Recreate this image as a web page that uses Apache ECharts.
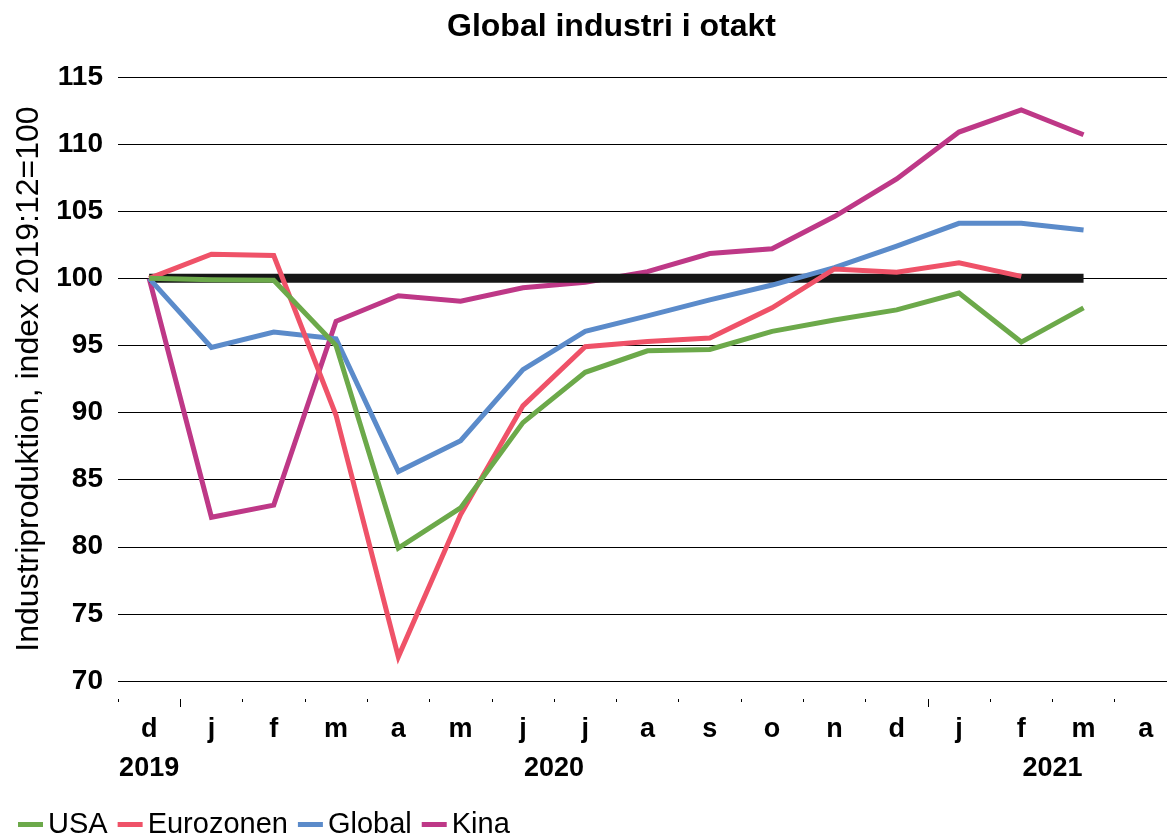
<!DOCTYPE html>
<html>
<head>
<meta charset="utf-8">
<script src="https://cdn.jsdelivr.net/npm/echarts@6/dist/echarts.min.js"></script>
<style>
html,body{margin:0;padding:0;background:#fff;}
#chart{width:1167px;height:838px;}
</style>
</head>
<body>
<div id="chart"></div>
<script>
const categories = ['d','j','f','m','a','m','j','j','a','s','o','n','d','j','f','m','a'];
const yearLabels = { '0': '2019', '6.5': '2020', '14.5': '2021' };
const usa = [100, 99.9, 99.85, 95.0, 79.9, 82.9, 89.25, 93.0, 94.6, 94.7, 96.05, 96.9, 97.65, 98.9, 95.25, 97.8];
const eurozonen = [100, 101.8, 101.7, 89.8, 71.8, 82.4, 90.5, 94.9, 95.3, 95.55, 97.8, 100.7, 100.45, 101.15, 100.15];
const global = [100, 94.85, 96.0, 95.5, 85.6, 87.9, 93.2, 96.05, 97.2, 98.4, 99.5, 100.8, 102.4, 104.1, 104.1, 103.6];
const kina = [100, 82.2, 83.1, 96.8, 98.7, 98.3, 99.3, 99.7, 100.5, 101.85, 102.2, 104.6, 107.4, 110.9, 112.55, 110.7];
const baseline = [100, 100, 100, 100, 100, 100, 100, 100, 100, 100, 100, 100, 100, 100, 100, 100];
const yMin = 70, yMax = 115, yStep = 5;

const FONT = '"Liberation Sans", Arial, sans-serif';
const chart = echarts.init(document.getElementById('chart'), null, { renderer: 'canvas' });

function lineSeries(name, data, color, z) {
  return {
    name: name, type: 'line', data: data, xAxisIndex: 0, yAxisIndex: 0,
    symbol: 'none', smooth: false, z: z,
    lineStyle: { color: color, width: 5, cap: 'butt', join: 'miter' },
    itemStyle: { color: color },
    emphasis: { disabled: true }
  };
}

chart.setOption({
  animation: false,
  backgroundColor: '#fff',
  title: {
    text: 'Global industri i otakt',
    left: 442, top: 6,
    textStyle: { fontFamily: FONT, fontSize: 32, fontWeight: 'bold', color: '#000' }
  },
  legend: {
    data: ['USA', 'Eurozonen', 'Global', 'Kina'],
    left: 13, top: 805,
    icon: 'rect', itemWidth: 25, itemHeight: 5, itemGap: 10,
    textStyle: { fontFamily: FONT, fontSize: 29, color: '#000', padding: [0, 0, 0, 0] }
  },
  grid: { left: 118, right: -10, top: 77, bottom: 157, containLabel: false, outerBoundsMode: 'none' },
  xAxis: [
    {
      type: 'category', data: categories, boundaryGap: true, position: 'bottom', offset: 18,
      axisLine: { show: false },
      axisTick: { show: true, interval: 0, length: 3, lineStyle: { color: '#000', width: 1 } },
      axisLabel: { interval: 0, margin: 17, fontFamily: FONT, fontSize: 27, fontWeight: 'bold', color: '#000' },
      splitLine: { show: false }
    },
    {
      type: 'category', data: categories, boundaryGap: true, position: 'bottom', offset: 18,
      axisLine: { show: false },
      axisTick: { show: true, interval: function (i) { return i === 1 || i === 13; }, length: 8, lineStyle: { color: '#000', width: 1 } },
      axisLabel: { show: false },
      splitLine: { show: false }
    },
    {
      type: 'value', min: -0.5, max: 16.5, interval: 0.5, position: 'bottom', offset: 18,
      axisLine: { show: false }, axisTick: { show: false }, splitLine: { show: false },
      axisLabel: {
        margin: 56, fontFamily: FONT, fontSize: 27, fontWeight: 'bold', color: '#000',
        showMinLabel: true, showMaxLabel: true,
        formatter: function (v) { return yearLabels[String(v)] || ''; }
      }
    }
  ],
  yAxis: {
    type: 'value', min: yMin, max: yMax, interval: yStep,
    name: 'Industriproduktion, index 2019:12=100',
    nameLocation: 'middle', nameGap: 72, nameRotate: 90,
    nameTextStyle: { fontFamily: FONT, fontSize: 32, color: '#000' },
    axisLine: { show: false },
    axisTick: { show: true, length: 7, lineStyle: { color: '#000', width: 1 } },
    axisLabel: { margin: 15, fontFamily: FONT, fontSize: 28, fontWeight: 'bold', color: '#000' },
    splitLine: { show: true, lineStyle: { color: '#000', width: 1.2 } }
  },
  series: [
    lineSeries('Kina', kina, '#BE3887', 2),
    Object.assign(lineSeries('_base', baseline, '#161616', 3), { lineStyle: { color: '#161616', width: 9, cap: 'butt' } }),
    lineSeries('Global', global, '#5B8BCA', 4),
    lineSeries('Eurozonen', eurozonen, '#EF5268', 5),
    lineSeries('USA', usa, '#6CA94A', 6)
  ]
});
</script>
</body>
</html>
